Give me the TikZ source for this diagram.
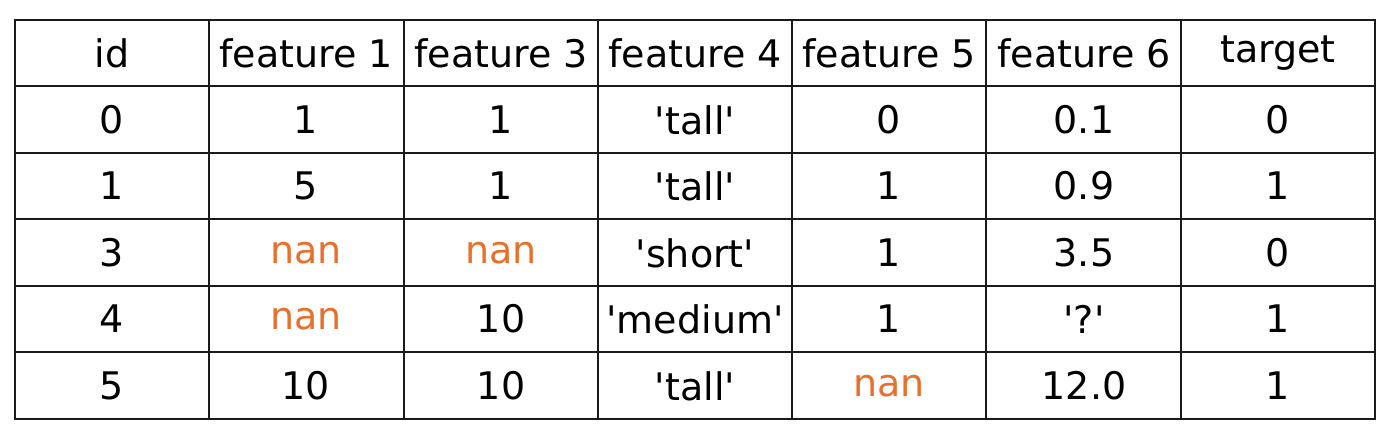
\documentclass[tikz,border=0pt]{standalone}
\usepackage{fontspec}
\setmainfont{DejaVu Sans}
\definecolor{nanorange}{HTML}{E8702A}
\definecolor{gridline}{HTML}{1A1A1A}
\newcommand{\sq}{\textquotesingle}
\begin{document}
\begin{tikzpicture}[x=0.5pt,y=-0.5pt,
  every node/.style={inner sep=0pt,font=\fontsize{19}{22}\selectfont},
  missing/.style={text=nanorange}]
  \useasboundingbox (0,0) rectangle (1400,434);
  % header
  \node (a0) at (112,53) {id};
  \node (b0) at (306,53) {feature 1};
  \node (c0) at (501,53) {feature 3};
  \node (d0) at (695,53) {feature 4};
  \node (e0) at (889,53) {feature 5};
  \node (f0) at (1084,53) {feature 6};
  \node (g0) at (1278,53) {target};
  % rows
  \node (a1) at (112,120) {0};
  \node (b1) at (306,120) {1};
  \node (c1) at (501,120) {1};
  \node (d1) at (695,120) {\sq tall\sq};
  \node (e1) at (889,120) {0};
  \node (f1) at (1084,120) {0.1};
  \node (g1) at (1278,120) {0};
  \node (a2) at (112,186) {1};
  \node (b2) at (306,186) {5};
  \node (c2) at (501,186) {1};
  \node (d2) at (695,186) {\sq tall\sq};
  \node (e2) at (889,186) {1};
  \node (f2) at (1084,186) {0.9};
  \node (g2) at (1278,186) {1};
  \node (a3) at (112,253) {3};
  \node [missing] (b3) at (306,253) {nan};
  \node [missing] (c3) at (501,253) {nan};
  \node (d3) at (695,253) {\sq short\sq};
  \node (e3) at (889,253) {1};
  \node (f3) at (1084,253) {3.5};
  \node (g3) at (1278,253) {0};
  \node (a4) at (112,319) {4};
  \node [missing] (b4) at (306,319) {nan};
  \node (c4) at (501,319) {10};
  \node (d4) at (695,319) {\sq medium\sq};
  \node (e4) at (889,319) {1};
  \node (f4) at (1084,319) {\sq?\sq};
  \node (g4) at (1278,319) {1};
  \node (a5) at (112,386) {5};
  \node (b5) at (306,386) {10};
  \node (c5) at (501,386) {10};
  \node (d5) at (695,386) {\sq tall\sq};
  \node [missing] (e5) at (889,386) {nan};
  \node (f5) at (1084,386) {12.0};
  \node (g5) at (1278,386) {1};
  % grid
  \draw [gridline, line width=1pt] (15,20) rectangle (1375,419);
  \draw [gridline, line width=1pt] (209,20) -- (209,419);
  \draw [gridline, line width=1pt] (404,20) -- (404,419);
  \draw [gridline, line width=1pt] (598,20) -- (598,419);
  \draw [gridline, line width=1pt] (792,20) -- (792,419);
  \draw [gridline, line width=1pt] (986,20) -- (986,419);
  \draw [gridline, line width=1pt] (1181,20) -- (1181,419);
  \draw [gridline, line width=1pt] (15,86) -- (1375,86);
  \draw [gridline, line width=1pt] (15,153) -- (1375,153);
  \draw [gridline, line width=1pt] (15,219) -- (1375,219);
  \draw [gridline, line width=1pt] (15,286) -- (1375,286);
  \draw [gridline, line width=1pt] (15,352) -- (1375,352);
\end{tikzpicture}
\end{document}
